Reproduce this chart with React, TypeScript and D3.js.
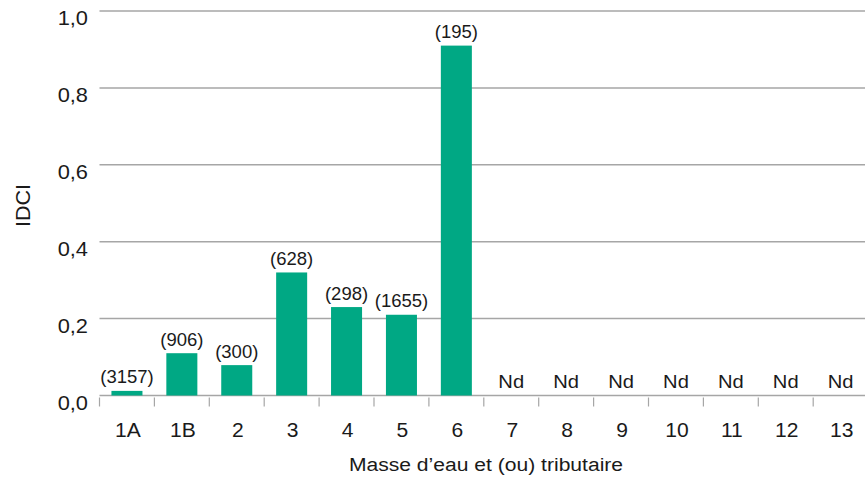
import React from "react";
import * as d3 from "d3";

const categories = ["1A", "1B", "2", "3", "4", "5", "6", "7", "8", "9", "10", "11", "12", "13"];
const values: (number | null)[] = [0.012, 0.11, 0.079, 0.32, 0.23, 0.21, 0.91, null, null, null, null, null, null, null];
const counts: (string | null)[] = ["3157", "906", "300", "628", "298", "1655", "195", null, null, null, null, null, null, null];
const yTicks = [0, 0.2, 0.4, 0.6, 0.8, 1.0];
const naLabel = "Nd";
const yTitle = "IDCI";
const xTitle = "Masse d\u2019eau et (ou) tributaire";

const W = 865;
const H = 479;
const M = { left: 99.5, right: 0, top: 11, bottom: 83.5 };
const FONT = "'Liberation Sans', Arial, sans-serif";
const TXT = "#1a1a1a";

function SText(props: {
  x: number;
  y: number;
  size: number;
  sx: number;
  anchor: "start" | "middle" | "end";
  rotate?: number;
  dy?: string;
  children: React.ReactNode;
}) {
  const { x, y, size, sx, anchor, rotate = 0, dy, children } = props;
  return (
    <text
      transform={`translate(${x},${y}) rotate(${rotate}) scale(${sx},1)`}
      textAnchor={anchor}
      dy={dy}
      fontSize={size}
      fill={TXT}
    >
      {children}
    </text>
  );
}

export default function App() {
  const x = d3.scaleBand<string>().domain(categories).range([M.left, M.left + 14 * 54.9]).paddingInner(0.435).paddingOuter(0.2175);
  const y = d3.scaleLinear().domain([0, 1]).range([H - M.bottom, M.top]);
  const y0 = y(0);
  const fmt = (v: number) => v.toFixed(1).replace(".", ",");
  const step = x.step();
  return (
    <svg width={W} height={H} style={{ position: "absolute", left: 0, top: 0, fontFamily: FONT }}>
      {yTicks.map((t) => (
        <g key={t}>
          <line x1={M.left} x2={W} y1={y(t)} y2={y(t)} stroke="#a6a6a6" strokeWidth={1.5} />
          <SText x={88} y={y(t) + 7.5} dy="0.35em" anchor="end" size={19.5} sx={1.12}>
            {fmt(t)}
          </SText>
        </g>
      ))}
      {categories.map((c, i) => {
        const left = M.left + i * step;
        return <line key={"t" + c} x1={left} x2={left} y1={y0 + 2} y2={y0 + 11} stroke="#a6a6a6" strokeWidth={1.2} />;
      })}
      {categories.map((c, i) => {
        const v = values[i];
        const cx = (x(c) ?? 0) + x.bandwidth() / 2;
        return (
          <g key={c}>
            {v !== null && (
              <rect x={x(c)} y={y(v)} width={x.bandwidth()} height={y0 - y(v)} fill="#00a884" />
            )}
            {v !== null ? (
              <SText x={cx} y={y(v) - 7.5} anchor="middle" size={18.5} sx={1}>
                {`(${counts[i]})`}
              </SText>
            ) : (
              <SText x={cx} y={y0 - 7.5} anchor="middle" size={18.5} sx={1.09}>
                {naLabel}
              </SText>
            )}
            <SText x={cx + 1} y={437} anchor="middle" size={19.5} sx={1.08}>
              {c}
            </SText>
          </g>
        );
      })}
      <SText x={486} y={471} anchor="middle" size={19} sx={1.11}>
        {xTitle}
      </SText>
      <SText x={30} y={205.5} rotate={-90} anchor="middle" size={20} sx={1.08}>
        {yTitle}
      </SText>
    </svg>
  );
}
